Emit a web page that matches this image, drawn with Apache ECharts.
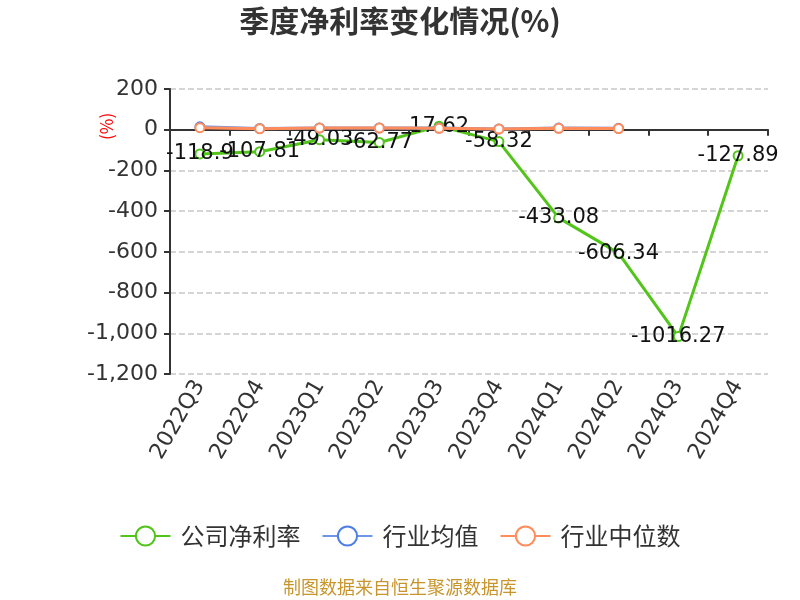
<!DOCTYPE html>
<html><head><meta charset="utf-8">
<script src="https://cdn.jsdelivr.net/npm/echarts@6/dist/echarts.min.js"></script>
<style>html,body{margin:0;padding:0;background:#fff}#c{width:800px;height:600px}</style>
</head><body><div id="c"></div>
<script>
const categories = ['2022Q3','2022Q4','2023Q1','2023Q2','2023Q3','2023Q4','2024Q1','2024Q2','2024Q3','2024Q4'];
const companyRate = [-118.9, -107.81, -49.03, -62.77, 17.62, -58.32, -433.08, -606.34, -1016.27, -127.89];
const industryAvg = [14, 6, 9, 9, 8, 4, 8, 7, null, null];
const industryMedian = [10, 5, 8, 8, 7, 3, 7, 6, null, null];
const yTicks = {min: -1200, max: 200, interval: 200};

const chart = echarts.init(document.getElementById('c'));
const cjk = '"Noto Sans CJK SC", "Noto Sans", sans-serif';
const num = '"DejaVu Sans", "Noto Sans CJK SC", sans-serif';
chart.setOption({
  animation: false,
  textStyle: {fontFamily: cjk},
  title: {text: '季度净利率变化情况(%)', left: 'center', top: 1,
    textStyle: {fontSize: 30, fontWeight: 'bold', color: '#333', fontFamily: cjk}},
  grid: {left: 170, right: 32, top: 89, bottom: 226},
  legend: {top: 519, left: 'center', itemWidth: 50, itemHeight: 24, itemGap: 21,
    textStyle: {fontSize: 24, color: '#333', fontFamily: cjk, padding: [0, 0, 0, 5]},
    data: ['公司净利率', '行业均值', '行业中位数']},
  graphic: [
    {type: 'text', left: 'center', top: 578, style: {text: '制图数据来自恒生聚源数据库', fill: '#c8952c', fontSize: 18, fontFamily: cjk}},
    {type: 'text', x: 98, y: 140, rotation: Math.PI/2, style: {text: '(%)', fill: '#ff0000', fontSize: 17, fontFamily: cjk}}
  ],
  xAxis: {type: 'category', data: categories, boundaryGap: true,
    axisLine: {onZero: true, lineStyle: {color: '#333', width: 2}},
    axisTick: {show: true, length: 6, lineStyle: {color: '#333', width: 2}},
    axisLabel: {rotate: 60, fontSize: 22, color: '#333', margin: 8, fontFamily: num}
  },
  yAxis: {type: 'value', min: yTicks.min, max: yTicks.max, interval: yTicks.interval,
    axisLine: {show: true, lineStyle: {color: '#333', width: 2}},
    axisTick: {show: true, length: 6, lineStyle: {color: '#333', width: 2}},
    axisLabel: {fontSize: 22, color: '#333', margin: 12, fontFamily: num},
    splitLine: {lineStyle: {type: 'dashed', color: '#c8c8c8', width: 1.5}}},
  series: [
    {name: '公司净利率', type: 'line', data: companyRate, symbol: 'emptyCircle', symbolSize: 9,
      itemStyle: {color: '#52c41a'}, lineStyle: {width: 3, color: '#52c41a'}, z: 3,
      label: {show: true, position: 'inside', fontSize: 21, color: '#111', fontFamily: num}},
    {name: '行业均值', type: 'line', data: industryAvg, symbol: 'emptyCircle', symbolSize: 9,
      itemStyle: {color: '#4e7fe6'}, lineStyle: {width: 3, color: '#6f95ea'}, z: 4},
    {name: '行业中位数', type: 'line', data: industryMedian, symbol: 'emptyCircle', symbolSize: 9,
      itemStyle: {color: '#ff8c5a'}, lineStyle: {width: 3, color: '#ff8c5a'}, z: 5}
  ]
});
</script></body></html>
